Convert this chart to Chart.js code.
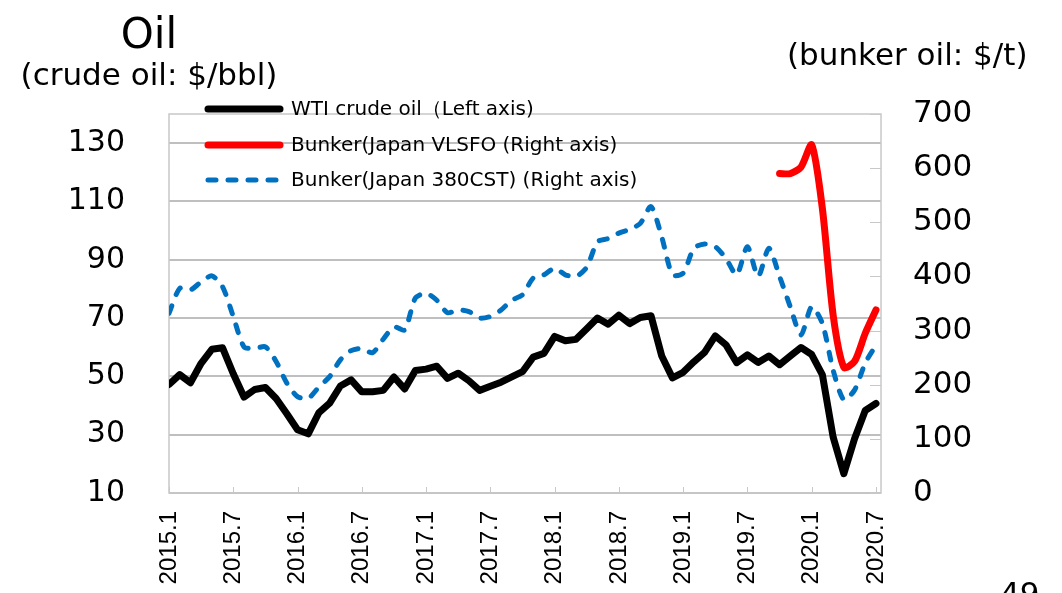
<!DOCTYPE html>
<html>
<head>
<meta charset="utf-8">
<script src="https://cdn.jsdelivr.net/npm/chart.js@4.4.1/dist/chart.umd.min.js"></script>
<style>
  html, body { margin: 0; padding: 0; background: #fff; }
  #wrap { width: 1062px; height: 593px; position: relative; }
</style>
</head>
<body>
<div id="wrap"><canvas id="oilChart"></canvas></div>
<script>
// month labels 2015.1 .. 2020.7
const months = [];
for (let y = 2015; y <= 2020; y++) {
    for (let m = 1; m <= 12; m++) {
        if (y === 2020 && m > 7) break;
        months.push(y + '.' + m);
    }
}

// WTI crude oil, $/bbl (left axis)
const wti = [
    47.2, 50.6, 47.8, 54.5, 59.3, 59.8, 50.9, 42.9, 45.5, 46.2, 42.4, 37.2,
    31.7, 30.3, 37.6, 40.8, 46.7, 48.8, 44.7, 44.7, 45.2, 49.8, 45.7, 52.0,
    52.5, 53.5, 49.3, 51.1, 48.5, 45.2, 46.6, 48.0, 49.8, 51.6, 56.6, 57.9,
    63.7, 62.2, 62.7, 66.3, 70.0, 67.9, 71.0, 68.1, 70.2, 70.8, 57.0, 49.5,
    51.4, 55.0, 58.2, 63.9, 60.8, 54.7, 57.4, 54.8, 57.0, 54.0, 57.0, 59.9,
    57.5, 50.5, 29.2, 16.6, 28.6, 38.3, 40.7
];

// Bunker Japan VLSFO, $/t (right axis) - starts 2019.10
const vlsfo = [
    null, null, null, null, null, null, null, null, null, null, null, null,
    null, null, null, null, null, null, null, null, null, null, null, null,
    null, null, null, null, null, null, null, null, null, null, null, null,
    null, null, null, null, null, null, null, null, null, null, null, null,
    null, null, null, null, null, null, null, null, null, 590, 590, 602,
    643, 525, 329, 232, 243, 295, 338
];

// Bunker Japan 380CST, $/t (right axis)
const cst380 = [
    332, 378, 375, 390, 401, 381, 326, 270, 267, 270, 243, 203,
    178, 175, 196, 215, 246, 263, 267, 259, 284, 307, 301, 360,
    369, 356, 333, 338, 335, 323, 326, 338, 356, 366, 397, 403,
    415, 403, 400, 417, 464, 470, 480, 487, 498, 529, 473, 403,
    406, 452, 460, 455, 433, 403, 455, 400, 452, 400, 344, 292,
    344, 313, 227, 172, 190, 240, 273
];

const leftTicks = [10, 30, 50, 70, 90, 110, 130];
const xTickIdx = [0, 6, 12, 18, 24, 30, 36, 42, 48, 54, 60, 66];

const toPoints = arr => arr.map((v, i) => ({ x: i, y: v }));

const GRID = 'rgb(191,191,191)';
const FRAME = 'rgb(200,200,200)';
const FONT = '"DejaVu Sans", Verdana, sans-serif';

const decor = {
    id: 'decor',
    beforeDatasetsDraw(chart) {
        const ctx = chart.ctx, a = chart.chartArea;
        const xs = chart.scales.x, yr = chart.scales.yR;
        ctx.save();
        ctx.strokeStyle = FRAME;
        ctx.lineWidth = 1.5;
        ctx.strokeRect(a.left, a.top, a.right - a.left, a.bottom - a.top);
        ctx.lineWidth = 1;
        // x tick marks (inside)
        xTickIdx.forEach(i => {
            const px = Math.round(xs.getPixelForValue(i)) + 0.5;
            ctx.beginPath();
            ctx.moveTo(px, a.bottom);
            ctx.lineTo(px, a.bottom - 6);
            ctx.stroke();
        });
        // right axis tick marks (inside)
        for (let v = 0; v <= 700; v += 100) {
            const py = Math.round(yr.getPixelForValue(v)) + 0.5;
            ctx.beginPath();
            ctx.moveTo(a.right, py);
            ctx.lineTo(a.right - 11, py);
            ctx.stroke();
        }
        ctx.restore();
    },
    afterDraw(chart) {
        const ctx = chart.ctx;
        ctx.save();
        ctx.fillStyle = '#000';
        ctx.textBaseline = 'alphabetic';
        ctx.textAlign = 'center';
        ctx.font = '42px ' + FONT;
        ctx.fillText('Oil', 149, 48);
        ctx.font = '31px ' + FONT;
        ctx.fillText('(crude oil: $/bbl)', 149, 85);
        ctx.textAlign = 'left';
        ctx.fillText('(bunker oil: $/t)', 787, 65);
        ctx.fillText('49', 1000, 604);

        // legend
        const rows = [109, 145, 180];
        ctx.font = '20px ' + FONT;
        ctx.textBaseline = 'middle';
        chart.data.datasets.forEach((ds, i) => {
            const y = rows[i];
            ctx.beginPath();
            ctx.strokeStyle = ds.borderColor;
            ctx.lineWidth = ds.borderWidth;
            ctx.lineCap = 'round';
            ctx.setLineDash(ds.borderDash || []);
            ctx.moveTo(208, y);
            ctx.lineTo(280, y);
            ctx.stroke();
            ctx.setLineDash([]);
            ctx.fillStyle = '#000';
            ctx.fillText(ds.label, 291, y + 1);
        });
        ctx.restore();
    }
};

new Chart(document.getElementById('oilChart').getContext('2d'), {
    type: 'line',
    data: {
        datasets: [
            {
                label: 'WTI crude oil（Left axis)',
                data: toPoints(wti),
                yAxisID: 'yL',
                borderColor: '#000000',
                borderWidth: 7,
                borderJoinStyle: 'round',
                borderCapStyle: 'round',
                pointRadius: 0,
                tension: 0,
                order: 3
            },
            {
                label: 'Bunker(Japan VLSFO (Right axis)',
                data: toPoints(vlsfo),
                yAxisID: 'yR',
                borderColor: '#FF0000',
                borderWidth: 7,
                borderJoinStyle: 'round',
                borderCapStyle: 'round',
                pointRadius: 0,
                tension: 0.25,
                order: 1
            },
            {
                label: 'Bunker(Japan 380CST) (Right axis)',
                data: toPoints(cst380),
                yAxisID: 'yR',
                borderColor: '#0070C0',
                borderWidth: 5,
                borderDash: [8, 12],
                borderCapStyle: 'round',
                borderJoinStyle: 'round',
                pointRadius: 0,
                tension: 0.25,
                order: 2
            }
        ]
    },
    options: {
        responsive: true,
        maintainAspectRatio: false,
        animation: false,
        layout: { padding: { top: 114, left: 0, right: 0, bottom: 0 } },
        scales: {
            x: {
                type: 'linear',
                min: 0,
                max: 66.47,
                afterBuildTicks: s => { s.ticks = xTickIdx.map(v => ({ value: v })); },
                afterFit: s => { s.height = 100; },
                grid: { display: false, drawTicks: false },
                border: { display: false },
                ticks: {
                    autoSkip: false,
                    minRotation: 90,
                    maxRotation: 90,
                    padding: 18,
                    color: '#000',
                    font: { family: '"Liberation Sans", Arial, sans-serif', size: 24 },
                    callback: v => months[v]
                }
            },
            yL: {
                position: 'left',
                min: 10,
                max: 140,
                afterBuildTicks: s => { s.ticks = leftTicks.map(v => ({ value: v })); },
                afterFit: s => { s.width = 169; },
                grid: { color: GRID, lineWidth: 2, drawTicks: false },
                border: { display: false },
                ticks: {
                    padding: 44,
                    color: '#000',
                    font: { family: FONT, size: 30 }
                }
            },
            yR: {
                position: 'right',
                min: 0,
                max: 700,
                afterFit: s => { s.width = 181; },
                grid: { drawOnChartArea: false, drawTicks: false },
                border: { display: false },
                ticks: {
                    stepSize: 100,
                    padding: 32,
                    color: '#000',
                    font: { family: FONT, size: 31 }
                }
            }
        },
        plugins: {
            legend: { display: false },
            tooltip: { enabled: false }
        }
    },
    plugins: [decor]
});
</script>
</body>
</html>
